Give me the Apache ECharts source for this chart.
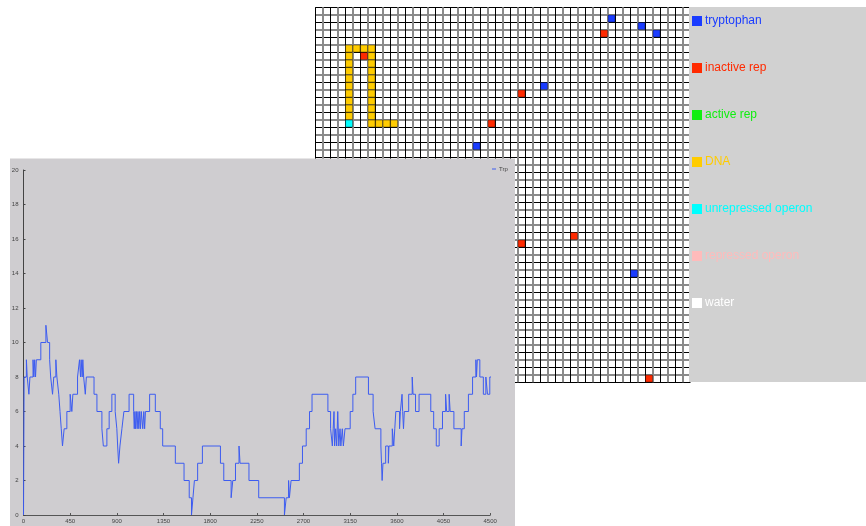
<!DOCTYPE html>
<html>
<head>
<meta charset="utf-8">
<script src="https://cdn.jsdelivr.net/npm/echarts@6/dist/echarts.min.js"></script>
<style>
html, body { margin: 0; padding: 0; background: #fff; }
#main { width: 866px; height: 526px; }
</style>
</head>
<body>
<div id="main"></div>
<script>
// lattice cells, [col, row] counted from the top-left cell
var tryptophan = [[39, 1], [43, 2], [45, 3], [30, 10], [21, 18], [42, 35]];
var inactiveRep = [[38, 3], [6, 6], [27, 11], [23, 15], [34, 30], [27, 31], [44, 49]];
var activeRep = [];
var dnaCells = [
  [4, 5], [5, 5], [6, 5], [7, 5],
  [4, 6], [4, 7], [4, 8], [4, 9], [4, 10], [4, 11], [4, 12], [4, 13], [4, 14],
  [7, 6], [7, 7], [7, 8], [7, 9], [7, 10], [7, 11], [7, 12], [7, 13], [7, 14], [7, 15],
  [8, 15], [9, 15], [10, 15]
];
var unrepressedOperon = [[4, 15]];
var repressedOperon = [];
var water = [];

var legendNames = ['tryptophan', 'inactive rep', 'active rep', 'DNA', 'unrepressed operon', 'repressed operon', 'water'];
var legendColors = ['#1a3cff', '#ff2a00', '#11ee11', '#ffcc00', '#00ffff', '#ffbbbb', '#ffffff'];

// Trp count over time (change points, value holds until next change)
var trpTime = [0, 6, 28, 36, 52, 62, 92, 100, 108, 116, 124, 167, 216, 232, 252, 262, 280, 292, 312, 322,
  340, 352, 364, 376, 392, 418, 450, 466, 476, 521, 540, 550, 556, 566, 572, 580, 596, 606, 680, 708,
  756, 770, 804, 826, 852, 884, 900, 908, 917, 930, 949, 968, 1018, 1062, 1068, 1074, 1080, 1088, 1096, 1104,
  1112, 1120, 1128, 1136, 1150, 1160, 1168, 1176, 1216, 1271, 1319, 1342, 1464, 1548, 1598, 1620, 1634, 1648, 1679, 1725,
  1899, 1931, 2002, 2018, 2044, 2078, 2088, 2174, 2268, 2516, 2533, 2556, 2564, 2580, 2660, 2690, 2726, 2758, 2782, 2935,
  2961, 2978, 2986, 2994, 3000, 3010, 3020, 3030, 3040, 3052, 3060, 3074, 3084, 3100, 3150, 3176, 3203, 3326, 3371, 3390,
  3446, 3452, 3458, 3466, 3492, 3518, 3524, 3556, 3570, 3580, 3590, 3626, 3634, 3650, 3656, 3664, 3672, 3714, 3748, 3756,
  3780, 3814, 3927, 3955, 3980, 4008, 4040, 4070, 4080, 4104, 4114, 4150, 4220, 4228, 4250, 4290, 4330, 4362, 4368, 4376,
  4400, 4434, 4458, 4474, 4496, 4524];
var trpValue = [0, 8, 9, 8, 7, 8, 9, 8, 9, 8, 9, 10, 11, 10, 9, 8, 7, 8, 9, 8,
  7, 6, 5, 4, 5, 6, 7, 6, 7, 8, 9, 8, 9, 8, 9, 8, 7, 8, 7, 6,
  5, 4, 5, 6, 7, 6, 5, 4, 3, 4, 5, 6, 7, 6, 5, 6, 5, 6, 5, 6,
  5, 6, 5, 6, 5, 6, 5, 6, 7, 6, 5, 4, 3, 2, 1, 0, 1, 2, 3, 4,
  3, 2, 1, 2, 3, 4, 3, 2, 1, 0, 1, 2, 1, 2, 3, 4, 5, 6, 7, 6,
  5, 4, 5, 6, 4, 5, 4, 6, 4, 5, 4, 5, 4, 5, 6, 7, 8, 7, 6, 5,
  4, 3, 2, 3, 4, 3, 4, 5, 4, 5, 6, 5, 6, 7, 6, 5, 6, 7, 8, 7,
  6, 7, 6, 5, 4, 5, 6, 7, 6, 7, 6, 5, 4, 5, 6, 7, 8, 9, 8, 9,
  8, 7, 8, 7, 8, 8];

var xTicks = [0, 450, 900, 1350, 1800, 2250, 2700, 3150, 3600, 4050, 4500];
var yTicks = [0, 2, 4, 6, 8, 10, 12, 14, 16, 18, 20];

function cellData(list) {
  return list.map(function (c) { return [c[0] + 0.5, c[1] + 0.5]; });
}

var chart = echarts.init(document.getElementById('main'));

var latticeSets = [tryptophan, inactiveRep, activeRep, dnaCells, unrepressedOperon, repressedOperon, water];
var latticeSeries = legendNames.map(function (name, i) {
  return {
    name: name,
    type: 'scatter',
    xAxisIndex: 0,
    yAxisIndex: 0,
    symbol: 'rect',
    symbolSize: 7,
    z: 5,
    silent: true,
    itemStyle: { color: legendColors[i], borderColor: 'rgba(0,0,0,0.45)', borderWidth: 0.8, opacity: 1 },
    data: cellData(latticeSets[i])
  };
});

function latticeAxis(colors, width) {
  return {
    gridIndex: 0,
    type: 'value',
    min: 0,
    max: 50,
    interval: 1,
    axisLine: { show: false },
    axisTick: { show: false },
    axisLabel: { show: false },
    splitLine: { show: true, lineStyle: { color: colors, width: width } }
  };
}

var yLat0 = latticeAxis(['#000', 'transparent'], 1); yLat0.inverse = true;
var yLat1 = latticeAxis(['transparent', '#8a8a8a'], 2); yLat1.inverse = true;

var option = {
  animation: false,
  textStyle: { fontFamily: 'Liberation Sans' },
  graphic: [
    { type: 'rect', shape: { x: 689, y: 7, width: 177, height: 375 }, style: { fill: '#d1d1d1' }, z: 50 },
    { type: 'rect', shape: { x: 10, y: 158.5, width: 505, height: 368 }, style: { fill: '#cfcdd0' }, z: 50 }
  ],
  grid: [
    { left: 315.3, top: 7.3, width: 375, height: 375 },
    { left: 23.5, top: 170, width: 466.7, height: 345 }
  ],
  legend: [
    {
      orient: 'vertical',
      left: 692,
      top: 15,
      padding: 0,
      itemWidth: 10,
      itemHeight: 10,
      itemGap: 35,
      icon: 'rect',
      selectedMode: false,
      z: 80,
      itemStyle: { borderWidth: 0 },
      textStyle: { fontSize: 12, lineHeight: 12, padding: [0, 0, 0, -2] },
      data: legendNames.map(function (n, i) {
        return { name: n, textStyle: { color: legendColors[i] } };
      })
    },
    {
      left: 492,
      top: 166,
      padding: 0,
      itemWidth: 4,
      itemHeight: 1,
      icon: 'rect',
      selectedMode: false,
      z: 80,
      textStyle: { fontSize: 6, color: '#444', padding: [0, 0, 0, -2] },
      data: ['Trp']
    }
  ],
  xAxis: [
    latticeAxis(['#000', 'transparent'], 1),
    latticeAxis(['transparent', '#8a8a8a'], 2),
    {
      gridIndex: 1,
      type: 'value',
      min: xTicks[0],
      max: xTicks[xTicks.length - 1],
      interval: 450,
      z: 60,
      axisLine: { lineStyle: { color: '#555', width: 1 } },
      axisTick: { inside: true, length: 2, lineStyle: { color: '#555' } },
      axisLabel: { fontSize: 6, color: '#444', margin: 3, formatter: function (v) { return String(v); } },
      splitLine: { show: false }
    }
  ],
  yAxis: [
    yLat0,
    yLat1,
    {
      gridIndex: 1,
      type: 'value',
      min: yTicks[0],
      max: yTicks[yTicks.length - 1],
      interval: 2,
      z: 60,
      axisLine: { show: true, lineStyle: { color: '#444', width: 1 } },
      axisTick: { show: true, inside: true, length: 2, lineStyle: { color: '#444' } },
      axisLabel: { fontSize: 6, color: '#444', margin: 5, formatter: function (v) { return String(v); } },
      splitLine: { show: false }
    }
  ],
  series: latticeSeries.concat([
    {
      name: 'Trp',
      type: 'line',
      xAxisIndex: 2,
      yAxisIndex: 2,
      step: 'end',
      showSymbol: false,
      z: 70,
      itemStyle: { color: '#3d5cf0' },
      lineStyle: { color: '#3d5cf0', width: 1 },
      data: trpTime.map(function (t, i) { return [t, trpValue[i]]; })
    }
  ])
};

chart.setOption(option);
</script>
</body>
</html>
